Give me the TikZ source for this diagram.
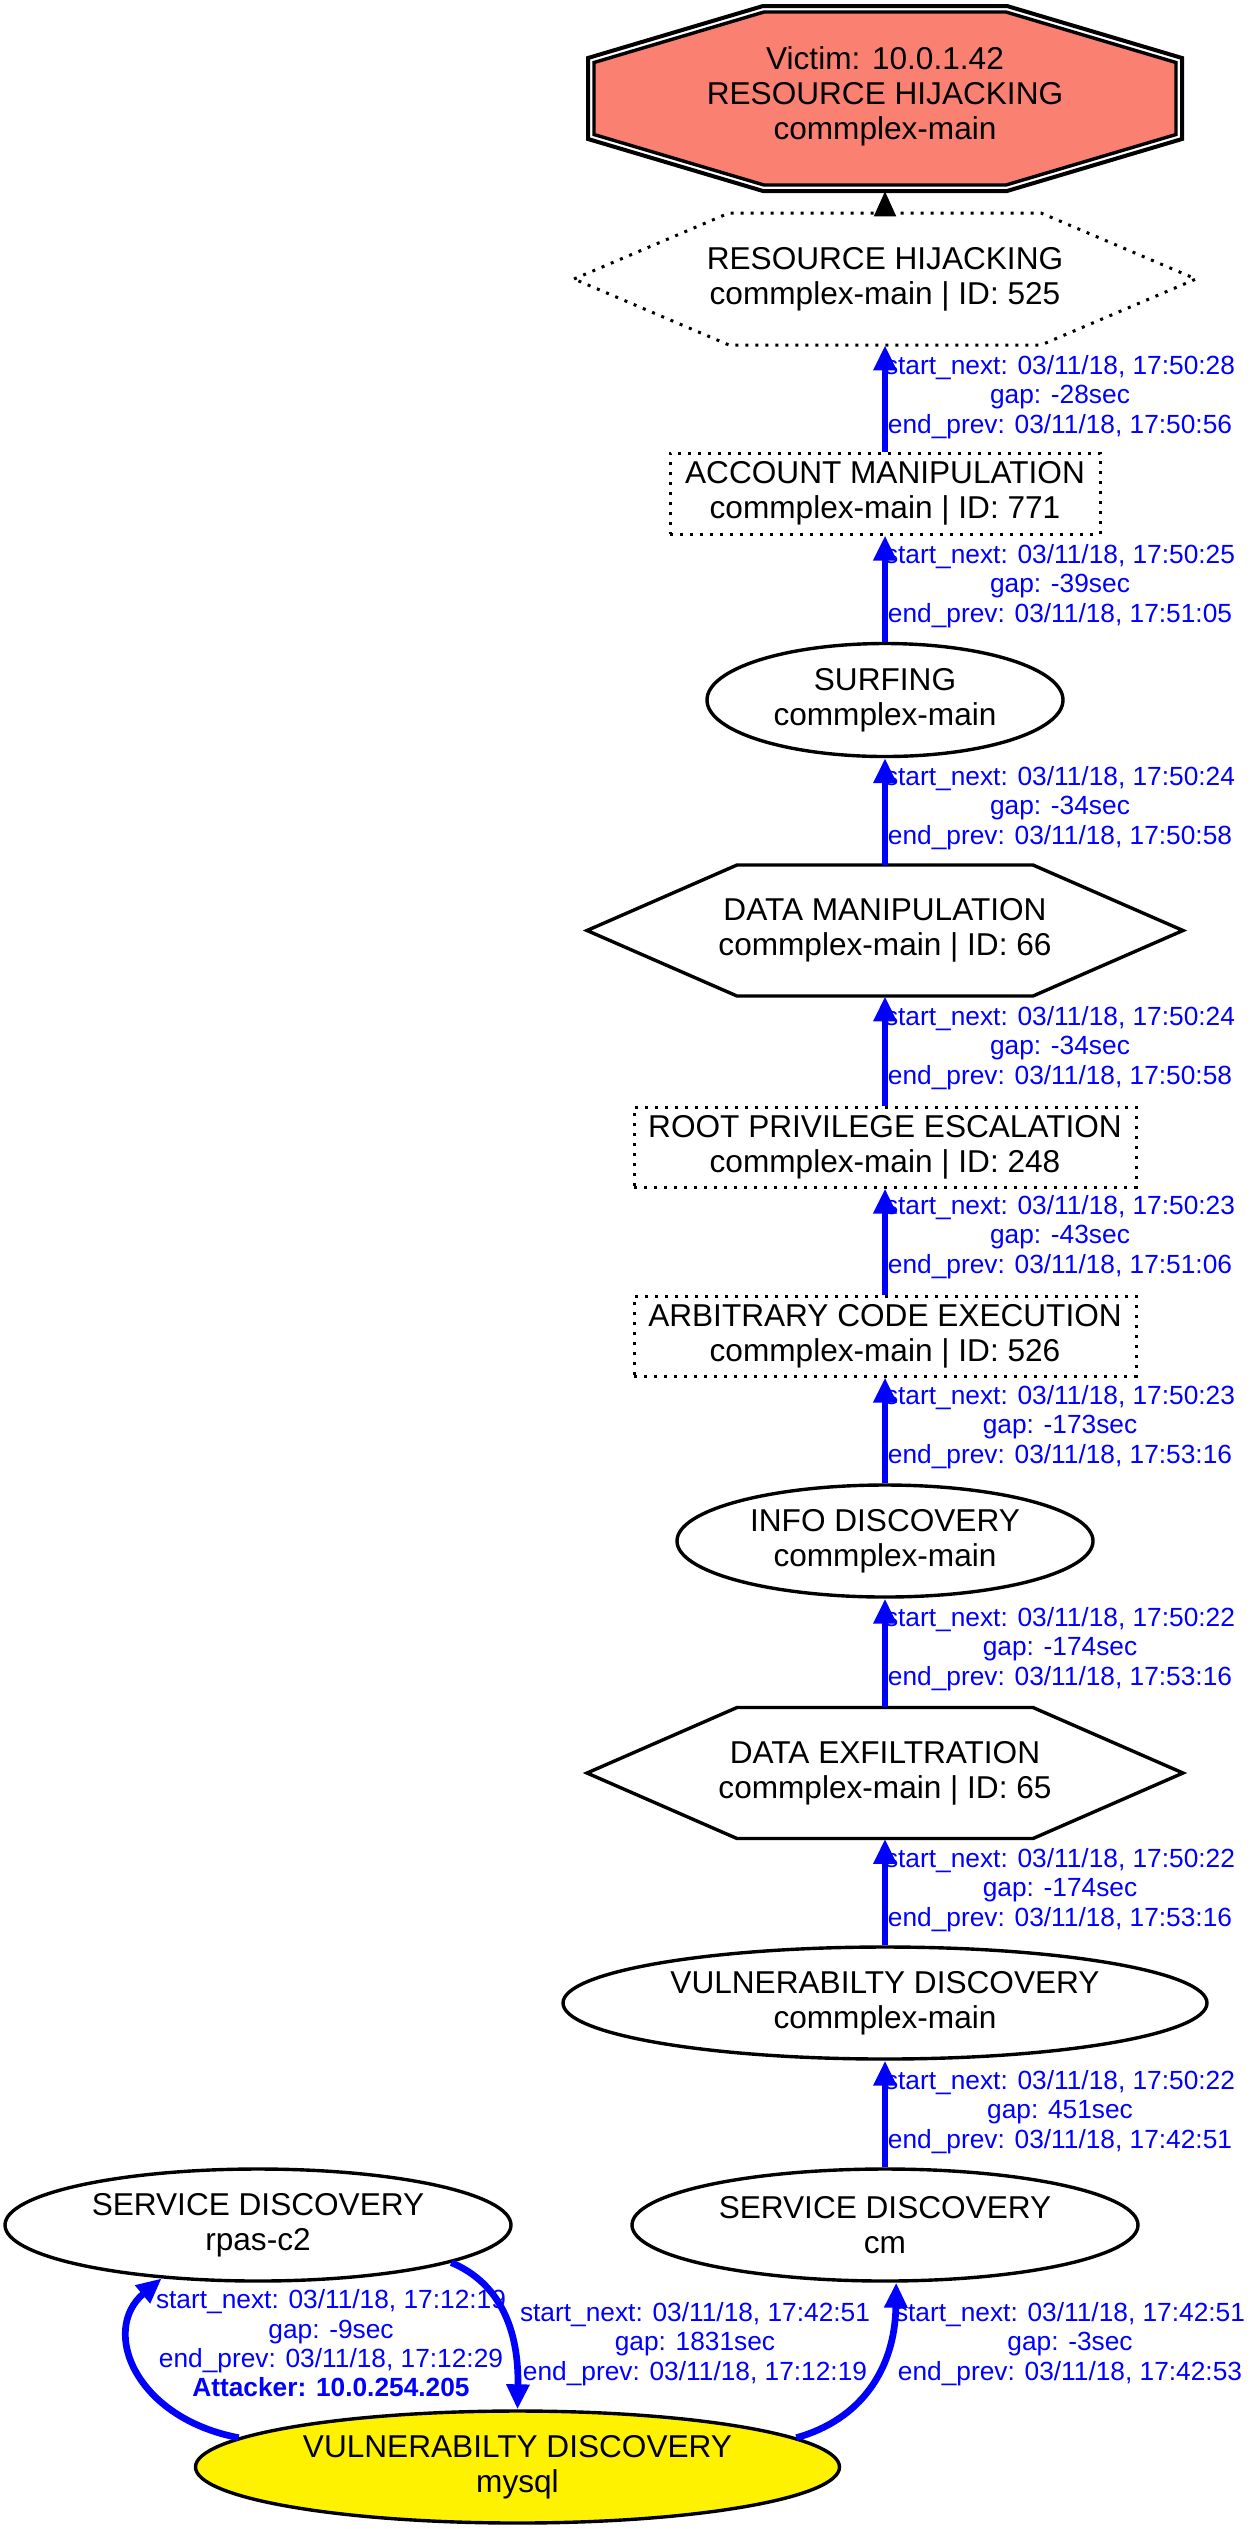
\documentclass[tikz,border=0pt]{standalone}
\usepackage{fontspec}
\setmainfont{Liberation Sans}
\usetikzlibrary{shapes.geometric,arrows.meta,calc}
\definecolor{salmonc}{HTML}{FA8072}
\begin{document}
\begin{tikzpicture}[x=0.5pt,y=-0.5pt,
 nodefont/.style={font=\fontsize{15.8pt}{17.5pt}\selectfont, align=center, inner sep=0pt},
 ell/.style={nodefont, ellipse, draw, line width=1.7pt},
 dotbox/.style={nodefont, rectangle, draw, line width=1.5pt, dash pattern=on 1.5pt off 3.5pt},
 txtbox/.style={nodefont, rectangle},
 solidline/.style={line width=1.7pt, line join=miter},
 dotline/.style={line width=1.5pt, dash pattern=on 1.5pt off 3.5pt},
 lbl/.style={font=\fontsize{13.15pt}{14.65pt}\selectfont, text=blue, align=center, inner sep=0pt},
 bedge/.style={draw=blue, line width=3.35pt, -{Triangle[length=12.5pt,width=11pt]}},
 kedge/.style={draw=black, line width=1pt, -{Triangle[length=12.5pt,width=11pt]}}]
\fill[white] (0,0) rectangle (1253,2529);
\useasboundingbox (0,0) rectangle (1253,2529);

% victim double octagon
\node[txtbox, minimum width=297pt, minimum height=92.5pt] (victim) at (885,98.5) {};
\draw[line width=2pt, line join=miter] ($(victim.center)+(-122,-92.5)$) -- ($(victim.center)+(122,-92.5)$) -- ($(victim.center)+(297,-40.5)$) -- ($(victim.center)+(297,40.5)$) -- ($(victim.center)+(122,92.5)$) -- ($(victim.center)+(-122,92.5)$) -- ($(victim.center)+(-297,40.5)$) -- ($(victim.center)+(-297,-40.5)$) -- cycle;
\filldraw[fill=salmonc, line width=1.7pt, line join=miter] ($(victim.center)+(-121,-86.5)$) -- ($(victim.center)+(121,-86.5)$) -- ($(victim.center)+(291,-36)$) -- ($(victim.center)+(291,36)$) -- ($(victim.center)+(121,86.5)$) -- ($(victim.center)+(-121,86.5)$) -- ($(victim.center)+(-291,36)$) -- ($(victim.center)+(-291,-36)$) -- cycle;
\node[txtbox] (victimtext) at (885,96) {Victim: 10.0.1.42\\RESOURCE HIJACKING\\commplex-main};

% resource hijacking hexagon (dotted)
\node[txtbox, minimum width=311pt, minimum height=66pt] (rh) at (885,279) {RESOURCE HIJACKING\\commplex-main | ID: 525};
\draw[dotline] ($(rh.center)+(-311,0)$) -- ($(rh.center)+(-156,-66)$) -- ($(rh.center)+(156,-66)$) -- ($(rh.center)+(311,0)$) -- ($(rh.center)+(156,66)$) -- ($(rh.center)+(-156,66)$) -- cycle;

\node[dotbox, minimum width=215pt, minimum height=40.5pt] (acc) at (885,493.5) {ACCOUNT MANIPULATION\\commplex-main | ID: 771};
\node[ell, minimum width=178pt, minimum height=56.5pt] (surf) at (885,700) {SURFING\\commplex-main};

\node[txtbox, minimum width=298pt, minimum height=65.5pt] (dm) at (885,930.5) {DATA MANIPULATION\\commplex-main | ID: 66};
\draw[solidline] ($(dm.center)+(-298,0)$) -- ($(dm.center)+(-148,-65.5)$) -- ($(dm.center)+(148,-65.5)$) -- ($(dm.center)+(298,0)$) -- ($(dm.center)+(148,65.5)$) -- ($(dm.center)+(-148,65.5)$) -- cycle;

\node[dotbox, minimum width=251pt, minimum height=40pt] (root) at (885,1147) {ROOT PRIVILEGE ESCALATION\\commplex-main | ID: 248};
\node[dotbox, minimum width=251pt, minimum height=40pt] (arb) at (885,1336) {ARBITRARY CODE EXECUTION\\commplex-main | ID: 526};
\node[ell, minimum width=208pt, minimum height=56pt] (info) at (885,1541) {INFO DISCOVERY\\commplex-main};

\node[txtbox, minimum width=298pt, minimum height=65.5pt] (dx) at (885,1773) {DATA EXFILTRATION\\commplex-main | ID: 65};
\draw[solidline] ($(dx.center)+(-298,0)$) -- ($(dx.center)+(-148,-65.5)$) -- ($(dx.center)+(148,-65.5)$) -- ($(dx.center)+(298,0)$) -- ($(dx.center)+(148,65.5)$) -- ($(dx.center)+(-148,65.5)$) -- cycle;

\node[ell, minimum width=322pt, minimum height=56pt] (vc) at (885,2003) {VULNERABILTY DISCOVERY\\commplex-main};
\node[ell, minimum width=253pt, minimum height=56pt] (sdcm) at (885,2225) {SERVICE DISCOVERY\\cm};
\node[ell, minimum width=253pt, minimum height=56pt] (sdr) at (258,2225) {SERVICE DISCOVERY\\rpas-c2};
\node[ell, fill=yellow, minimum width=322pt, minimum height=56pt] (mysql) at (517.5,2467) {VULNERABILTY DISCOVERY\\mysql};

% edges
\draw[kedge] (rh.north) -- (victim.south);
\draw[bedge] (acc.north) -- (rh.south);
\draw[bedge] (surf.north) -- (acc.south);
\draw[bedge] (dm.north) -- (surf.south);
\draw[bedge] (root.north) -- (dm.south);
\draw[bedge] (arb.north) -- (root.south);
\draw[bedge] (info.north) -- (arb.south);
\draw[bedge] (dx.north) -- (info.south);
\draw[bedge] (vc.north) -- (dx.south);
\draw[bedge] (sdcm.north) -- (vc.south);
\draw[bedge] (mysql.174) .. controls (135,2418) and (100,2330) .. (sdr.209);
\draw[bedge] (sdr.-11) .. controls (500,2283) and (519,2330) .. (mysql.north);
\draw[bedge] (mysql.6.5) .. controls (860,2420) and (895,2370) .. (sdcm.281);

% edge labels
\node[lbl] (l1) at (1060,397) {start\_next: 03/11/18, 17:50:28\\gap: -28sec\\end\_prev: 03/11/18, 17:50:56};
\node[lbl] (l2) at (1060,586) {start\_next: 03/11/18, 17:50:25\\gap: -39sec\\end\_prev: 03/11/18, 17:51:05};
\node[lbl] (l3) at (1060,808) {start\_next: 03/11/18, 17:50:24\\gap: -34sec\\end\_prev: 03/11/18, 17:50:58};
\node[lbl] (l4) at (1060,1048) {start\_next: 03/11/18, 17:50:24\\gap: -34sec\\end\_prev: 03/11/18, 17:50:58};
\node[lbl] (l5) at (1060,1237) {start\_next: 03/11/18, 17:50:23\\gap: -43sec\\end\_prev: 03/11/18, 17:51:06};
\node[lbl] (l6) at (1060,1427) {start\_next: 03/11/18, 17:50:23\\gap: -173sec\\end\_prev: 03/11/18, 17:53:16};
\node[lbl] (l7) at (1060,1649) {start\_next: 03/11/18, 17:50:22\\gap: -174sec\\end\_prev: 03/11/18, 17:53:16};
\node[lbl] (l8) at (1060,1890) {start\_next: 03/11/18, 17:50:22\\gap: -174sec\\end\_prev: 03/11/18, 17:53:16};
\node[lbl] (l9) at (1060,2112) {start\_next: 03/11/18, 17:50:22\\gap: 451sec\\end\_prev: 03/11/18, 17:42:51};
\node[lbl] (l10) at (331,2343.5) {start\_next: 03/11/18, 17:12:19\\gap: -9sec\\end\_prev: 03/11/18, 17:12:29\\\textbf{Attacker: 10.0.254.205}};
\node[lbl] (l11) at (695,2344) {start\_next: 03/11/18, 17:42:51\\gap: 1831sec\\end\_prev: 03/11/18, 17:12:19};
\node[lbl] (l12) at (1070,2344) {start\_next: 03/11/18, 17:42:51\\gap: -3sec\\end\_prev: 03/11/18, 17:42:53};
\end{tikzpicture}
\end{document}
